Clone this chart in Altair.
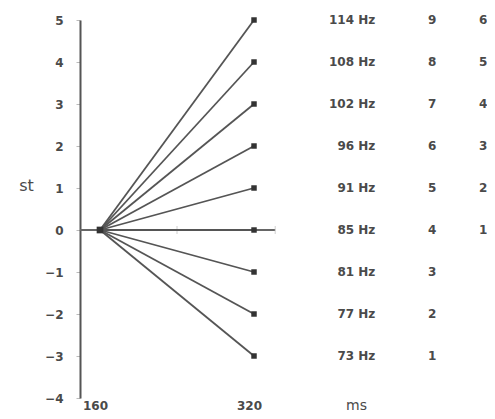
import altair as alt
import pandas as pd

# ---- data ----
st_values = [5, 4, 3, 2, 1, 0, -1, -2, -3]
hz_labels = ["114 Hz", "108 Hz", "102 Hz", "96 Hz", "91 Hz", "85 Hz", "81 Hz", "77 Hz", "73 Hz"]
col2_labels = ["9", "8", "7", "6", "5", "4", "3", "2", "1"]
col3_labels = ["6", "5", "4", "3", "2", "1", "", "", ""]
start_ms = 160
end_ms = 320
x_ticks = [160, 320]
y_ticks = [5, 4, 3, 2, 1, 0, -1, -2, -3, -4]

# column positions (in ms units on the x scale)
hz_col_x = 446
col2_x = 505
col3_x = 558
zero_line_end = 342
zero_line_ticks = [240, 342]

# ---- tables ----
rows = []
for i, v in enumerate(st_values):
    rows.append({"series": i, "ms": start_ms, "st": 0})
    rows.append({"series": i, "ms": end_ms, "st": v})
lines_df = pd.DataFrame(rows)
ends_df = pd.DataFrame({"ms": [end_ms] * len(st_values), "st": st_values})
start_df = pd.DataFrame({"ms": [start_ms], "st": [0]})
labels_df = pd.DataFrame({
    "st": st_values,
    "hz": hz_labels,
    "c2": col2_labels,
    "c3": col3_labels,
    "hzx": [hz_col_x] * 9,
    "c2x": [col2_x] * 9,
    "c3x": [col3_x] * 9,
})
zero_df = pd.DataFrame({"x1": [139.2], "x2": [zero_line_end], "st": [0]})
zticks_df = pd.DataFrame({"ms": zero_line_ticks, "st": [0] * len(zero_line_ticks)})

FONT = "DejaVu Sans"
GREY = "#4a4a4a"

xscale = alt.Scale(domain=[139.2, 554.8], nice=False, zero=False)
yscale = alt.Scale(domain=[-4, 5], nice=False, zero=False)

xaxis = alt.Axis(
    values=x_ticks, domain=False, ticks=False, grid=False,
    labelFont=FONT, labelFontSize=12, labelFontWeight="bold", labelColor=GREY,
    labelPadding=2, labelOffset=-5,
    title="ms", titleFont=FONT, titleFontSize=14, titleFontWeight="normal",
    titleColor=GREY, titleX=276, titleY=0, titleBaseline="top", titleAlign="center",
)
yaxis = alt.Axis(
    values=y_ticks, grid=False, domainColor="#555555", domainWidth=2,
    tickColor="#bbbbbb", tickSize=4, tickWidth=1,
    labelFont=FONT, labelFontSize=12, labelFontWeight="bold", labelColor=GREY,
    labelPadding=13,
    title="st", titleFont=FONT, titleFontSize=16, titleFontWeight="normal",
    titleColor=GREY, titleAngle=0, titleX=-54, titleY=165,
    titleAlign="center", titleBaseline="middle",
)

base_x = alt.X("ms:Q", scale=xscale, axis=xaxis)
base_y = alt.Y("st:Q", scale=yscale, axis=yaxis)

zero_line = alt.Chart(zero_df).mark_rule(color="#666666", strokeWidth=2).encode(
    x=alt.X("x1:Q", scale=xscale, axis=xaxis), x2="x2:Q", y=base_y
)
zero_ticks = alt.Chart(zticks_df).mark_tick(
    orient="vertical", color="#bbbbbb", size=8, thickness=1
).encode(x=base_x, y=base_y)

lines = alt.Chart(lines_df).mark_line(color="#555555", strokeWidth=1.8).encode(
    x=base_x, y=base_y, detail="series:N"
)
ends = alt.Chart(ends_df).mark_point(
    shape="square", filled=True, color="#333333", size=30, opacity=1
).encode(x=base_x, y=base_y)
start = alt.Chart(start_df).mark_point(
    shape="square", filled=True, color="#333333", size=45, opacity=1
).encode(x=base_x, y=base_y)

hz_text = alt.Chart(labels_df).mark_text(
    font=FONT, fontSize=12, fontWeight="bold", color=GREY, align="right", baseline="middle"
).encode(x=alt.X("hzx:Q", scale=xscale), y=base_y, text="hz:N")
c2_text = alt.Chart(labels_df).mark_text(
    font=FONT, fontSize=12, fontWeight="bold", color=GREY, align="center", baseline="middle"
).encode(x=alt.X("c2x:Q", scale=xscale), y=base_y, text="c2:N")
c3_text = alt.Chart(labels_df).mark_text(
    font=FONT, fontSize=12, fontWeight="bold", color=GREY, align="center", baseline="middle"
).encode(x=alt.X("c3x:Q", scale=xscale), y=base_y, text="c3:N")

chart = alt.layer(
    zero_line, zero_ticks, lines, ends, start, hz_text, c2_text, c3_text
).properties(
    width=400, height=378,
    autosize=alt.AutoSizeParams(type="none"),
    padding={"left": 72, "top": 12, "right": 7, "bottom": 13},
    background="white",
).configure_view(stroke=None)

chart.save("out.html", embed_options={"renderer": "svg", "actions": False})
